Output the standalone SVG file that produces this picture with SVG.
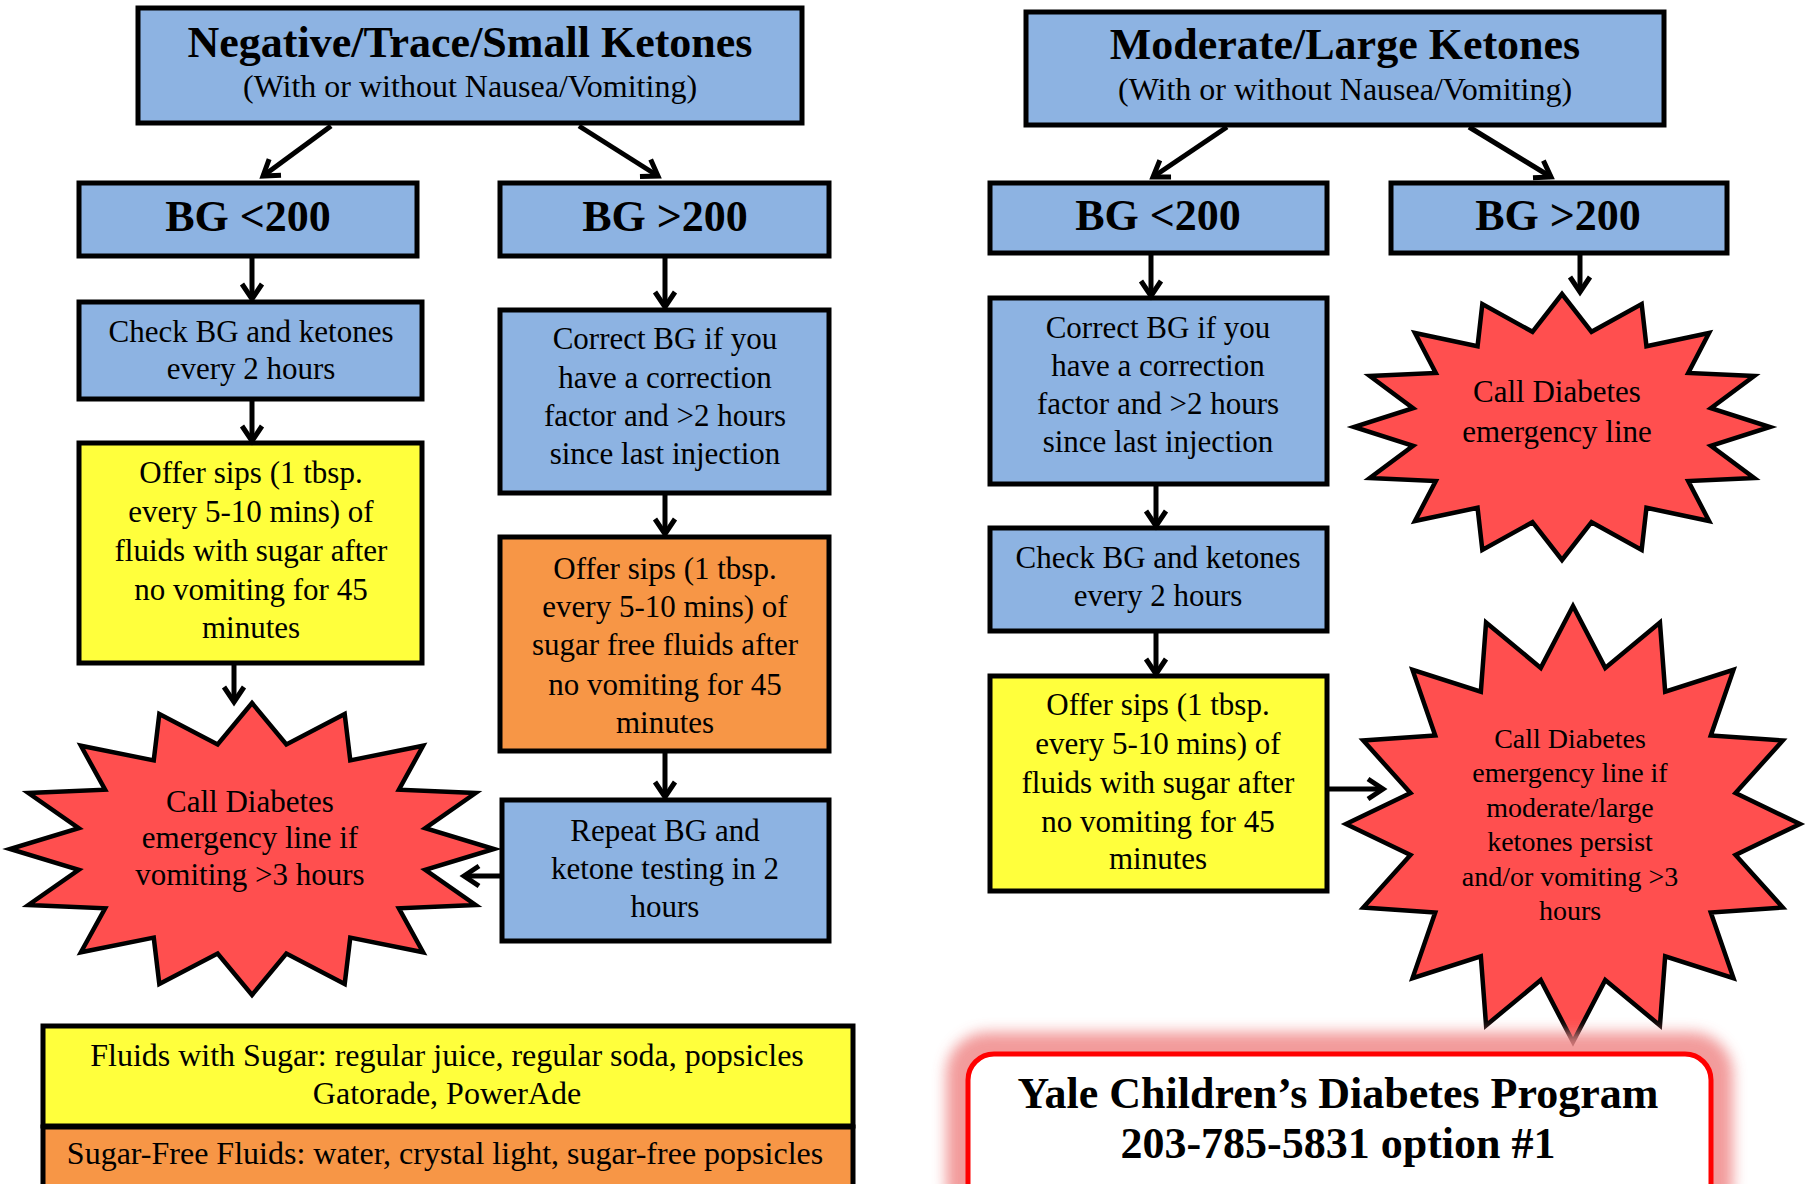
<svg xmlns="http://www.w3.org/2000/svg" xmlns:xlink="http://www.w3.org/1999/xlink" width="1806" height="1184" viewBox="0 0 1806 1184">
<style>
text{font-family:"Liberation Serif","Times New Roman",serif;fill:#000;text-anchor:middle}
.t{font-size:44px;font-weight:bold}
.s{font-size:32px}
.b{font-size:31px}
.sm{font-size:28px}
.y{font-size:44px;font-weight:bold}
.box{stroke:#000;stroke-width:5}
.blue{fill:#8DB3E2}
.yel{fill:#FFFF3C}
.org{fill:#F79646}
.star{fill:#FF4F4F;stroke:#000;stroke-width:4.5;stroke-linejoin:miter}
.con{fill:none;stroke:#000;stroke-width:5;marker-end:url(#ah)}
</style>
<defs>
<marker id="ah" markerUnits="userSpaceOnUse" markerWidth="30" markerHeight="30" viewBox="-20 -15 25 30" refX="0" refY="0" orient="auto" overflow="visible">
<path d="M-15,-10 L0,0 L-15,10" fill="none" stroke="#000" stroke-width="5"/>
</marker>
<polygon id="starshape" vector-effect="non-scaling-stroke" points="0,-100 14.2,-71.6 38.3,-92.4 40.6,-60.7 70.7,-70.7 60.7,-40.6 92.4,-38.3 71.6,-14.2 100,0 71.6,14.2 92.4,38.3 60.7,40.6 70.7,70.7 40.6,60.7 38.3,92.4 14.2,71.6 0,100 -14.2,71.6 -38.3,92.4 -40.6,60.7 -70.7,70.7 -60.7,40.6 -92.4,38.3 -71.6,14.2 -100,0 -71.6,-14.2 -92.4,-38.3 -60.7,-40.6 -70.7,-70.7 -40.6,-60.7 -38.3,-92.4 -14.2,-71.6"/>
<filter id="glow" x="-20%" y="-40%" width="140%" height="180%">
<feGaussianBlur stdDeviation="7"/>
</filter>
</defs>
<rect width="1806" height="1184" fill="#fff"/>

<!-- Left column -->
<g id="title-left">
<rect class="box blue" x="138" y="8" width="664" height="115"/>
<text class="t" x="470" y="57">Negative/Trace/Small Ketones</text>
<text class="s" x="470" y="97">(With or without Nausea/Vomiting)</text>
</g>
<g id="bg-low-left">
<rect class="box blue" x="79" y="183" width="338" height="73"/>
<text class="t" x="248" y="231">BG &lt;200</text>
</g>
<g id="bg-high-left">
<rect class="box blue" x="500" y="183" width="329" height="73"/>
<text class="t" x="665" y="231">BG &gt;200</text>
</g>
<g id="check-left">
<rect class="box blue" x="79" y="302" width="343" height="97"/>
<text class="b" x="251" y="342">Check BG and ketones</text>
<text class="b" x="251" y="379">every 2 hours</text>
</g>
<g id="correct-left">
<rect class="box blue" x="500" y="310" width="329" height="183"/>
<text class="b" x="665" y="349">Correct BG if you</text>
<text class="b" x="665" y="388">have a correction</text>
<text class="b" x="665" y="426">factor and &gt;2 hours</text>
<text class="b" x="665" y="464">since last injection</text>
</g>
<g id="offer-sugar-left">
<rect class="box yel" x="79" y="443" width="343" height="220"/>
<text class="b" x="251" y="483">Offer sips (1 tbsp.</text>
<text class="b" x="251" y="522">every 5-10 mins) of</text>
<text class="b" x="251" y="561">fluids with sugar after</text>
<text class="b" x="251" y="600">no vomiting for 45</text>
<text class="b" x="251" y="638">minutes</text>
</g>
<g id="offer-sugarfree-left">
<rect class="box org" x="500" y="537" width="329" height="214"/>
<text class="b" x="665" y="579">Offer sips (1 tbsp.</text>
<text class="b" x="665" y="617">every 5-10 mins) of</text>
<text class="b" x="665" y="655">sugar free fluids after</text>
<text class="b" x="665" y="695">no vomiting for 45</text>
<text class="b" x="665" y="733">minutes</text>
</g>
<g id="repeat-left">
<rect class="box blue" x="502" y="800" width="327" height="141"/>
<text class="b" x="665" y="841">Repeat BG and</text>
<text class="b" x="665" y="879">ketone testing in 2</text>
<text class="b" x="665" y="917">hours</text>
</g>
<g id="call-left">
<use xlink:href="#starshape" class="star" transform="translate(252,849) scale(2.42,1.46)"/>
<text class="b" x="250" y="812">Call Diabetes</text>
<text class="b" x="250" y="848">emergency line if</text>
<text class="b" x="250" y="885">vomiting &gt;3 hours</text>
</g>

<!-- Right column -->
<g id="title-right">
<rect class="box blue" x="1026" y="12" width="638" height="113"/>
<text class="t" x="1345" y="59">Moderate/Large Ketones</text>
<text class="s" x="1345" y="100">(With or without Nausea/Vomiting)</text>
</g>
<g id="bg-low-right">
<rect class="box blue" x="990" y="183" width="337" height="70"/>
<text class="t" x="1158" y="230">BG &lt;200</text>
</g>
<g id="bg-high-right">
<rect class="box blue" x="1391" y="183" width="336" height="70"/>
<text class="t" x="1558" y="230">BG &gt;200</text>
</g>
<g id="correct-right">
<rect class="box blue" x="990" y="298" width="337" height="186"/>
<text class="b" x="1158" y="338">Correct BG if you</text>
<text class="b" x="1158" y="376">have a correction</text>
<text class="b" x="1158" y="414">factor and &gt;2 hours</text>
<text class="b" x="1158" y="452">since last injection</text>
</g>
<g id="check-right">
<rect class="box blue" x="990" y="528" width="337" height="103"/>
<text class="b" x="1158" y="568">Check BG and ketones</text>
<text class="b" x="1158" y="606">every 2 hours</text>
</g>
<g id="offer-sugar-right">
<rect class="box yel" x="990" y="676" width="337" height="215"/>
<text class="b" x="1158" y="715">Offer sips (1 tbsp.</text>
<text class="b" x="1158" y="754">every 5-10 mins) of</text>
<text class="b" x="1158" y="793">fluids with sugar after</text>
<text class="b" x="1158" y="832">no vomiting for 45</text>
<text class="b" x="1158" y="869">minutes</text>
</g>
<g id="call-right-small">
<use xlink:href="#starshape" class="star" transform="translate(1562,427) scale(2.08,1.33)"/>
<text class="b" x="1557" y="402">Call Diabetes</text>
<text class="b" x="1557" y="442">emergency line</text>
</g>
<g id="call-right-big">
<use xlink:href="#starshape" class="star" transform="translate(1573,824) scale(2.27,2.18)"/>
<text class="sm" x="1570" y="748">Call Diabetes</text>
<text class="sm" x="1570" y="782">emergency line if</text>
<text class="sm" x="1570" y="817">moderate/large</text>
<text class="sm" x="1570" y="851">ketones persist</text>
<text class="sm" x="1570" y="886">and/or vomiting &gt;3</text>
<text class="sm" x="1570" y="920">hours</text>
</g>

<!-- Legend -->
<g id="legend-sugar">
<rect class="box yel" x="43" y="1026" width="810" height="100"/>
<text class="s" x="447" y="1066">Fluids with Sugar: regular juice, regular soda, popsicles</text>
<text class="s" x="447" y="1104">Gatorade, PowerAde</text>
</g>
<g id="legend-sugarfree">
<rect class="box org" x="43" y="1127" width="810" height="80"/>
<text class="s" x="445" y="1164">Sugar-Free Fluids: water, crystal light, sugar-free popsicles</text>
</g>
<g id="contact">
<rect x="946" y="1032" width="787" height="194" rx="42" fill="#F08A8A" opacity="0.85" filter="url(#glow)"/>
<rect x="968" y="1054" width="743" height="160" rx="26" fill="#fff" stroke="#FF0000" stroke-width="5"/>
<text class="y" x="1338" y="1108">Yale Children’s Diabetes Program</text>
<text class="y" x="1338" y="1158">203-785-5831 option #1</text>
</g>

<!-- Connectors -->
<g id="connectors">
<path class="con" d="M331,126 L263,176"/>
<path class="con" d="M579,126 L658,176"/>
<path class="con" d="M252,258 L252,299"/>
<path class="con" d="M252,400 L252,441"/>
<path class="con" d="M234,665 L234,702"/>
<path class="con" d="M665,258 L665,307"/>
<path class="con" d="M665,495 L665,534"/>
<path class="con" d="M665,753 L665,797"/>
<path class="con" d="M500,876 L464,876"/>
<path class="con" d="M1227,127 L1153,177"/>
<path class="con" d="M1469,127 L1551,177"/>
<path class="con" d="M1151,255 L1151,296"/>
<path class="con" d="M1580,255 L1580,292"/>
<path class="con" d="M1156,486 L1156,526"/>
<path class="con" d="M1156,633 L1156,674"/>
<path class="con" d="M1329,789 L1383,789"/>
</g>
</svg>
